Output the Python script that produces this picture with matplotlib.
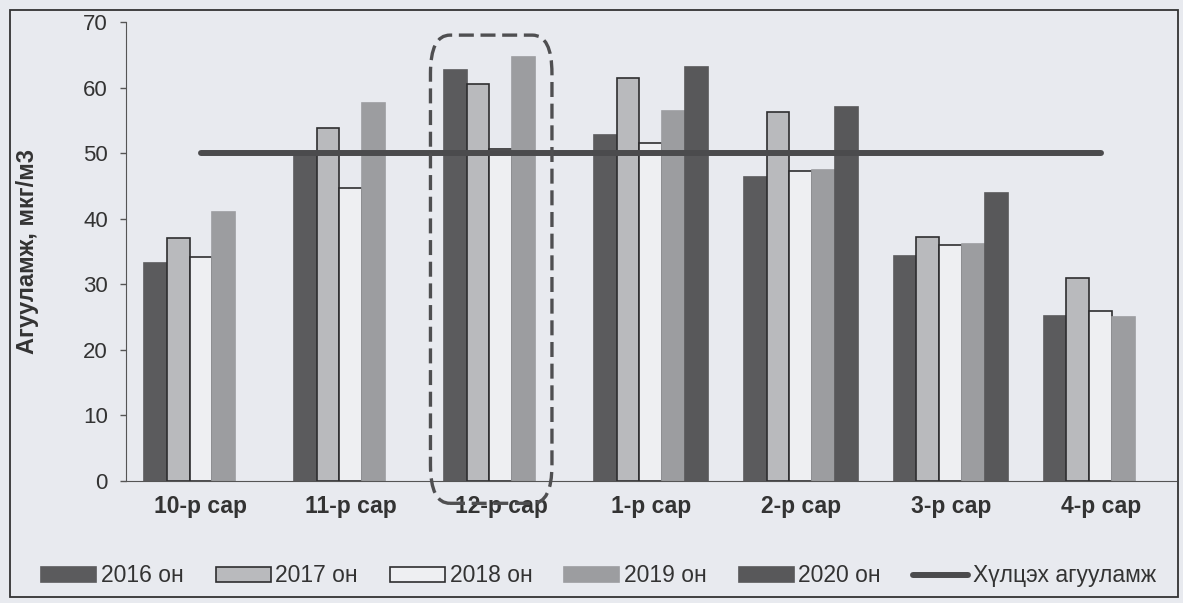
import numpy as np
import matplotlib
matplotlib.use("Agg")
import matplotlib.pyplot as plt
from matplotlib.patches import FancyBboxPatch, Rectangle

plt.rcParams["font.family"] = ["Liberation Sans", "DejaVu Sans"]

# ---------- DATA ----------
months = ["10-р сар", "11-р сар", "12-р сар", "1-р сар", "2-р сар", "3-р сар", "4-р сар"]
years = ["2016 он", "2017 он", "2018 он", "2019 он", "2020 он"]

v2016 = [33.2, 50.0, 62.7, 52.7, 46.4, 34.3, 25.2]
v2017 = [37.1, 53.9, 60.5, 61.5, 56.3, 37.2, 31.0]
v2018 = [34.1, 44.7, 50.7, 51.6, 47.3, 36.0, 25.9]
v2019 = [41.1, 57.7, 64.6, 56.4, 47.4, 36.1, 25.0]
v2020 = [np.nan, np.nan, np.nan, 63.2, 57.1, 43.9, np.nan]
limit_value = 50
limit_label = "Хүлцэх агууламж"

series = [v2016, v2017, v2018, v2019, v2020]
faces = ["#5b5b5d", "#b9babd", "#eeeff2", "#9c9da0", "#58585a"]
edges = ["#5b5b5d", "#2e2e30", "#2e2e30", "#9c9da0", "#58585a"]
bg = "#e8eaef"

# ---------- FIGURE ----------
fig = plt.figure(figsize=(11.83, 6.03), dpi=100, facecolor=bg)
ax = fig.add_axes([0.1065, 0.2023, 0.8875, 0.7612])
ax.set_facecolor(bg)

x = np.arange(len(months))
w = 0.153
handles = []
for i, vals in enumerate(series):
    b = ax.bar(x + (i - 2) * w, vals, width=w, color=faces[i],
               edgecolor=edges[i], linewidth=1.2, label=years[i], zorder=2)
    handles.append(b)

ln, = ax.plot(x, [limit_value] * len(x), color="#4b4b4d", lw=4.3,
              solid_capstyle="round", label=limit_label, zorder=3)
handles.append(ln)

ax.set_xlim(-0.5, len(months) - 0.5)
ax.set_ylim(0, 70)
ax.set_yticks(range(0, 71, 10))
ax.set_xticks(x)
ax.set_xticklabels(months, fontsize=16.5, fontweight="bold", color="#333333")
ax.tick_params(axis="x", length=0, pad=10)
ax.tick_params(axis="y", length=4, width=1, pad=9, labelsize=16,
               labelcolor="#333333", color="#555555")
for s in ["top", "right"]:
    ax.spines[s].set_visible(False)
ax.spines["left"].set_color("#555555")
ax.spines["bottom"].set_color("#555555")
ax.set_ylabel("Агууламж, мкг/м3", fontsize=17, fontweight="bold",
              color="#333333")
ax.yaxis.set_label_coords(-0.083, 0.5)

# dashed highlight around December
box = FancyBboxPatch((1.53, -3.4), 0.81, 71.4,
                     boxstyle="round,pad=0,rounding_size=0.13",
                     mutation_aspect=45, fill=False, ec="#4f4f51",
                     lw=2.4, ls=(0, (4.5, 2)), clip_on=False, zorder=4)
ax.add_patch(box)

# ---------- LEGEND ----------
leg = fig.legend(handles=handles, labels=years + [limit_label],
                 loc="center", bbox_to_anchor=(0.506, 0.045), ncol=6,
                 frameon=False, fontsize=16.5, handlelength=2.4,
                 handleheight=0.6, handletextpad=0.2, columnspacing=1.4,
                 labelcolor="#333333")

# outer frame
fig.patches.append(Rectangle((10 / 1183, 6 / 603), 1168 / 1183, 587 / 603,
                             transform=fig.transFigure, fill=False,
                             ec="#333333", lw=1.3))

fig.savefig("out.png", dpi=100, facecolor=bg)
